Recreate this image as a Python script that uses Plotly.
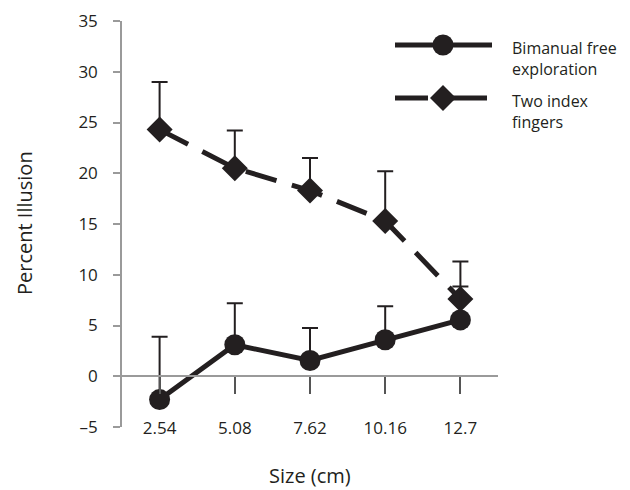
import plotly.graph_objects as go

sizes = ["2.54", "5.08", "7.62", "10.16", "12.7"]
bimanual = [-2.3, 3.1, 1.55, 3.6, 5.55]
bimanual_err = [6.2, 4.1, 3.2, 3.3, 3.3]
two_index = [24.3, 20.5, 18.3, 15.3, 7.6]
two_index_err = [4.7, 3.7, 3.2, 4.9, 3.7]

INK = "#231f20"
AX = "#9a9a9a"
FONT = "Open Sans"

# plot-area geometry in page pixels (page has an 8px body margin)
PL, PR, PT, PB = 122, 498, 21, 427


def px(x):
    return (x - PL) / (PR - PL)


def py(y):
    return (PB - y) / (PB - PT)


fig = go.Figure()

fig.add_trace(go.Scatter(
    x=sizes, y=two_index, mode="lines+markers",
    line=dict(color=INK, width=5, dash="32px,16px"),
    marker=dict(symbol="diamond", size=20, color=INK),
    error_y=dict(type="data", symmetric=False, array=two_index_err,
                 arrayminus=[0] * 5, color=INK, thickness=2, width=8),
    showlegend=False, cliponaxis=False))

fig.add_trace(go.Scatter(
    x=sizes, y=bimanual, mode="lines+markers",
    line=dict(color=INK, width=5),
    marker=dict(symbol="circle", size=21, color=INK),
    error_y=dict(type="data", symmetric=False, array=bimanual_err,
                 arrayminus=[0] * 5, color=INK, thickness=2, width=8),
    showlegend=False, cliponaxis=False))

# custom legend drawn on an overlay axis in page-pixel units
leg_names = ["Bimanual free<br>exploration", "Two index<br>fingers"]
leg_y = [45, 98]
fig.add_trace(go.Scatter(
    x=[395, 492], y=[leg_y[0]] * 2, xaxis="x2", yaxis="y2", mode="lines",
    line=dict(color=INK, width=5), showlegend=False, hoverinfo="skip"))
fig.add_trace(go.Scatter(
    x=[443], y=[leg_y[0]], xaxis="x2", yaxis="y2", mode="markers",
    marker=dict(symbol="circle", size=21, color=INK), showlegend=False, hoverinfo="skip"))
fig.add_trace(go.Scatter(
    x=[395, 428, None, 446, 487], y=[leg_y[1]] * 2 + [None] + [leg_y[1]] * 2,
    xaxis="x2", yaxis="y2", mode="lines",
    line=dict(color=INK, width=5), showlegend=False, hoverinfo="skip"))
fig.add_trace(go.Scatter(
    x=[443], y=[leg_y[1]], xaxis="x2", yaxis="y2", mode="markers",
    marker=dict(symbol="diamond", size=20, color=INK), showlegend=False, hoverinfo="skip"))

annotations = []
for name, yy in zip(leg_names, leg_y):
    annotations.append(dict(x=px(510), y=py(yy - 10), xref="paper", yref="paper", text=name,
                            showarrow=False, xanchor="left", yanchor="top",
                            align="left", font=dict(family=FONT, size=16, color=INK)))

annotations.append(dict(x=px(310), y=py(475), xref="paper", yref="paper", text="Size (cm)",
                        showarrow=False, xanchor="center", yanchor="middle",
                        font=dict(family=FONT, size=20, color=INK)))
annotations.append(dict(x=px(25), y=py(223), xref="paper", yref="paper", text="Percent Illusion",
                        showarrow=False, xanchor="center", yanchor="middle", textangle=-90,
                        font=dict(family=FONT, size=20, color=INK)))

fig.update_layout(
    width=622, height=482,
    margin=dict(l=PL - 8, r=630 - PR, t=PT - 8, b=490 - PB),
    paper_bgcolor="white", plot_bgcolor="white",
    font=dict(family=FONT, size=17, color=INK),
    annotations=annotations,
    xaxis=dict(type="category", range=[-0.5, 4.5], anchor="free", position=0.125,
               automargin=False,
               showline=True, linecolor=AX, linewidth=1.5, showgrid=False, zeroline=False,
               ticks="outside", ticklen=17, tickwidth=2, tickcolor="#555555",
               ticklabelstandoff=20, tickfont=dict(family=FONT, size=17, color=INK)),
    yaxis=dict(range=[-5, 35], tickvals=[-5, 0, 5, 10, 15, 20, 25, 30, 35],
               ticktext=["\u20135", "0", "5", "10", "15", "20", "25", "30", "35"],
               automargin=False,
               showline=True, linecolor=AX, linewidth=1.5, showgrid=False, zeroline=False,
               ticks="outside", ticklen=7, tickwidth=1.5, tickcolor=AX,
               ticklabelstandoff=12, tickfont=dict(family=FONT, size=17, color=INK)),
    xaxis2=dict(overlaying="x", range=[PL, PR], visible=False, fixedrange=True,
                automargin=False),
    yaxis2=dict(overlaying="y", range=[PB, PT], visible=False, fixedrange=True,
                automargin=False),
)

fig.write_html("out.html")
